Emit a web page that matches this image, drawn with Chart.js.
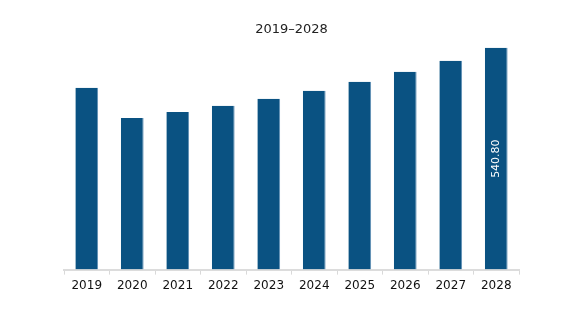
<!DOCTYPE html>
<html>
<head>
  <script src="https://cdn.jsdelivr.net/npm/chart.js"></script>
  <style>
    body { margin: 0; background: #fff; }
    #wrap { width: 575px; height: 321px; }
  </style>
</head>
<body>
  <div id="wrap"><canvas id="chart"></canvas></div>
  <script>
    const years = ["2019", "2020", "2021", "2022", "2023", "2024", "2025", "2026", "2027", "2028"];
    const values = [443.0, 369.5, 384.2, 399.0, 416.1, 435.6, 457.6, 482.1, 509.0, 540.8];
    const labelIndex = 9;
    const labelText = "540.80";

    // writes the value vertically inside the last bar
    const barLabel = {
      id: "barLabel",
      afterDatasetsDraw(chart) {
        const bar = chart.getDatasetMeta(0).data[labelIndex];
        const ctx = chart.ctx;
        ctx.save();
        ctx.translate(bar.x, (bar.y + bar.base) / 2);
        ctx.rotate(-Math.PI / 2);
        ctx.fillStyle = "#ffffff";
        ctx.font = "11px 'DejaVu Sans'";
        ctx.textAlign = "center";
        ctx.textBaseline = "middle";
        ctx.fillText(labelText, 0, 0);
        ctx.restore();
      }
    };

    new Chart(document.getElementById("chart"), {
      type: "bar",
      data: {
        labels: years,
        datasets: [{
          data: values,
          backgroundColor: "#0a5282",
          borderColor: "#5f8fb5",
          borderWidth: { right: 1, left: 0, top: 0, bottom: 0 },
          categoryPercentage: 1,
          barPercentage: 0.5
        }]
      },
      options: {
        responsive: true,
        maintainAspectRatio: false,
        animation: false,
        layout: { padding: { left: 64, right: 56, top: 0, bottom: 24 } },
        plugins: {
          legend: { display: false },
          tooltip: { enabled: false },
          title: {
            display: true,
            text: "2019–2028",
            color: "#222",
            font: { family: "DejaVu Sans", size: 13, weight: "normal" },
            padding: { top: 22, bottom: 3 }
          }
        },
        scales: {
          x: {
            offset: true,
            grid: { display: true, drawOnChartArea: false, offset: true, color: "#d9d9d9", tickLength: 5 },
            border: { color: "#dcdcdc", width: 2 },
            ticks: { color: "#111", font: { family: "DejaVu Sans", size: 12 }, padding: 4 }
          },
          y: {
            display: false,
            min: 0,
            max: 558
          }
        }
      },
      plugins: [barLabel]
    });
  </script>
</body>
</html>
